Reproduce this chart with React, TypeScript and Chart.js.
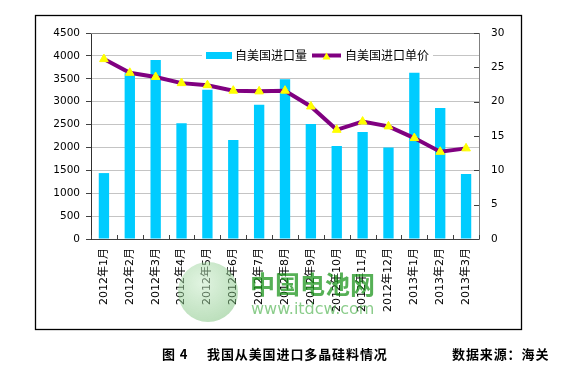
import React, { useEffect, useRef } from 'react';
import { Chart, registerables } from 'chart.js';

Chart.register(...registerables);

const categories = [
  '2012年1月', '2012年2月', '2012年3月', '2012年4月', '2012年5月', '2012年6月',
  '2012年7月', '2012年8月', '2012年9月', '2012年10月', '2012年11月', '2012年12月',
  '2013年1月', '2013年2月', '2013年3月',
];
const volumeLabel = '自美国进口量';
const priceLabel = '自美国进口单价';
const importVolume = [1440, 3620, 3910, 2530, 3260, 2160, 2930, 3490, 2510, 2030, 2340, 2000, 3630, 2860, 1420];
const importPrice = [26.2, 24.2, 23.6, 22.7, 22.4, 21.6, 21.5, 21.6, 19.3, 15.9, 17.1, 16.4, 14.7, 12.7, 13.2];
const volumeAxis = [0, 4500, 500];
const priceAxis = [0, 30, 5];

const BAR_COLOR = '#00CCFF';
const LINE_COLOR = '#800080';
const MARKER_COLOR = '#FFFF00';
const TICK_FONT = '"DejaVu Sans", "Noto Sans CJK SC", sans-serif';
const CJK_FONT = '"Noto Sans CJK SC", sans-serif';

const framePlugin = {
  id: 'frameAndLegend',
  beforeDraw(chart: any) {
    const ctx = chart.ctx;
    ctx.save();
    ctx.fillStyle = '#ffffff';
    ctx.fillRect(0, 0, chart.width, chart.height);
    ctx.strokeStyle = '#000000';
    ctx.lineWidth = 1.3;
    ctx.strokeRect(35.5, 15.5, 486, 314);
    ctx.restore();
  },
  afterDraw(chart: any) {
    const ctx = chart.ctx;
    const a = chart.chartArea;
    const xs = chart.scales.x;
    const yr = chart.scales.y1;
    ctx.save();
    // top border
    ctx.strokeStyle = '#808080';
    ctx.lineWidth = 1;
    ctx.beginPath();
    ctx.moveTo(a.left, Math.round(a.top) + 0.5);
    ctx.lineTo(a.right, Math.round(a.top) + 0.5);
    ctx.stroke();
    // inward ticks on x axis at category boundaries
    ctx.strokeStyle = '#404040';
    ctx.beginPath();
    const n = categories.length;
    const step = xs.getPixelForValue(1) - xs.getPixelForValue(0);
    for (let i = 0; i <= n; i++) {
      const px = Math.round(i < n ? xs.getPixelForValue(i) - step / 2 : a.right) + 0.5;
      ctx.moveTo(px, a.bottom);
      ctx.lineTo(px, a.bottom - 4);
    }
    // inward ticks on right axis
    yr.ticks.forEach((t: any) => {
      const py = Math.round(yr.getPixelForValue(t.value)) + 0.5;
      ctx.moveTo(a.right - 5, py);
      ctx.lineTo(a.right, py);
    });
    ctx.stroke();

    // legend
    ctx.font = `12px ${CJK_FONT}`;
    ctx.textBaseline = 'middle';
    ctx.textAlign = 'left';
    const cy = a.top + 22.5;
    const startX = a.left + 115;
    const w1 = ctx.measureText(volumeLabel).width;
    const w2 = ctx.measureText(priceLabel).width;
    const total = 26 + 3 + w1 + 5 + 29 + 4 + w2;
    ctx.fillStyle = '#ffffff';
    ctx.fillRect(startX - 4, cy - 8, total + 8, 16);
    ctx.fillStyle = BAR_COLOR;
    ctx.fillRect(startX, cy - 3.5, 26, 7);
    ctx.fillStyle = '#000000';
    ctx.fillText(volumeLabel, startX + 29, cy);
    const lx = startX + 29 + w1 + 5;
    ctx.strokeStyle = LINE_COLOR;
    ctx.lineWidth = 4;
    ctx.beginPath();
    ctx.moveTo(lx, cy);
    ctx.lineTo(lx + 29, cy);
    ctx.stroke();
    const tx = lx + 14.5;
    ctx.fillStyle = MARKER_COLOR;
    ctx.beginPath();
    ctx.moveTo(tx, cy - 3);
    ctx.lineTo(tx + 4, cy + 4);
    ctx.lineTo(tx - 4, cy + 4);
    ctx.closePath();
    ctx.fill();
    ctx.fillStyle = '#000000';
    ctx.fillText(priceLabel, lx + 33, cy);
    ctx.restore();
  },
};

function ChartView() {
  const ref = useRef<HTMLCanvasElement | null>(null);
  useEffect(() => {
    if (!ref.current) return;
    const chart = new Chart(ref.current, {
      type: 'bar',
      data: {
        labels: categories,
        datasets: [
          {
            type: 'line',
            label: priceLabel,
            data: importPrice,
            yAxisID: 'y1',
            borderColor: LINE_COLOR,
            borderWidth: 4,
            tension: 0,
            pointStyle: 'triangle',
            pointRadius: 5,
            pointBackgroundColor: MARKER_COLOR,
            pointBorderColor: MARKER_COLOR,
            pointBorderWidth: 1,
            order: 1,
          } as any,
          {
            type: 'bar',
            label: volumeLabel,
            data: importVolume,
            yAxisID: 'y',
            backgroundColor: BAR_COLOR,
            barPercentage: 0.4,
            categoryPercentage: 1,
            order: 2,
          },
        ],
      },
      options: {
        animation: false,
        responsive: false,
        maintainAspectRatio: false,
        devicePixelRatio: 1,
        layout: { padding: { top: 33, left: 0, right: 0, bottom: 0 } },
        plugins: {
          legend: { display: false },
          tooltip: { enabled: false },
          title: { display: false },
        },
        scales: {
          x: {
            offset: true,
            grid: { display: false, drawTicks: false },
            border: { display: true, color: '#404040', width: 1 },
            ticks: {
              autoSkip: false,
              maxRotation: 90,
              minRotation: 90,
              padding: 9,
              color: '#000000',
              font: { family: TICK_FONT, size: 11 },
            },
            afterFit: (s: any) => { s.height = 131; },
          },
          y: {
            position: 'left',
            min: volumeAxis[0],
            max: volumeAxis[1],
            grid: {
              color: '#c4c4c4',
              lineWidth: 1,
              drawTicks: true,
              tickLength: 5,
              tickColor: '#404040',
            },
            border: { display: true, color: '#303030', width: 1 },
            ticks: {
              stepSize: volumeAxis[2],
              padding: 6,
              color: '#000000',
              font: { family: TICK_FONT, size: 10.5 },
              callback: (v: any) => String(v),
            },
            afterFit: (s: any) => { s.width = 91; },
          },
          y1: {
            position: 'right',
            min: priceAxis[0],
            max: priceAxis[1],
            grid: { drawOnChartArea: false, drawTicks: false },
            border: { display: true, color: '#808080', width: 1 },
            ticks: {
              stepSize: priceAxis[2],
              padding: 12,
              color: '#000000',
              font: { family: TICK_FONT, size: 10.5 },
              callback: (v: any) => String(v),
            },
            afterFit: (s: any) => { s.width = 95; },
          },
        },
      },
      plugins: [framePlugin],
    } as any);
    return () => chart.destroy();
  }, []);
  return <canvas ref={ref} width={574} height={370} style={{ position: 'absolute', left: 0, top: 0, width: 574, height: 370 }} />;
}

export default function App() {
  const caption: React.CSSProperties = {
    position: 'absolute',
    top: 346,
    fontFamily: CJK_FONT,
    fontWeight: 700,
    fontSize: 13,
    letterSpacing: '0.9px',
    color: '#000',
    whiteSpace: 'nowrap',
    lineHeight: '16px',
  };
  return (
    <div style={{ position: 'absolute', left: 0, top: 0, width: 574, height: 370, background: '#fff', overflow: 'hidden' }}>
      <ChartView />
      <div style={{ position: 'absolute', left: 178, top: 262, width: 60, height: 60, borderRadius: '50%', background: 'radial-gradient(circle at 40% 35%, rgba(200,235,200,0.55), rgba(80,170,80,0.45))', pointerEvents: 'none' }} />
      <div style={{ position: 'absolute', left: 250, top: 268, fontFamily: CJK_FONT, fontWeight: 700, fontSize: 25, lineHeight: '30px', color: 'rgba(30,150,30,0.75)', whiteSpace: 'nowrap', pointerEvents: 'none' }}>中国电池网</div>
      <div style={{ position: 'absolute', left: 251, top: 299, fontFamily: '"DejaVu Sans", sans-serif', fontSize: 16, lineHeight: '20px', color: 'rgba(60,170,60,0.6)', whiteSpace: 'nowrap', pointerEvents: 'none' }}>www.itdcw.com</div>
      <div style={{ ...caption, left: 162 }}>图 4</div>
      <div style={{ ...caption, left: 207 }}>我国从美国进口多晶硅料情况</div>
      <div style={{ ...caption, left: 452 }}>数据来源：海关</div>
    </div>
  );
}
